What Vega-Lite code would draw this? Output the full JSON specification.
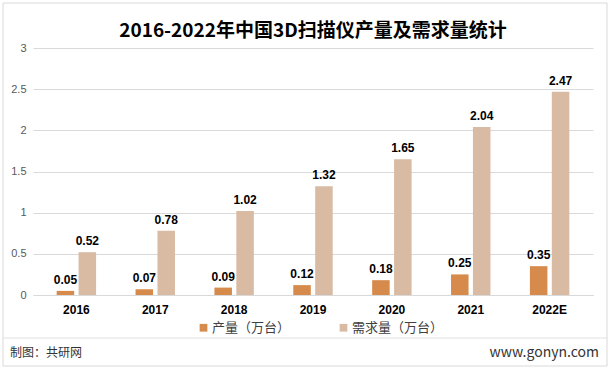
{
  "$schema": "https://vega.github.io/schema/vega-lite/v6.json",
  "width": 560,
  "height": 247,
  "autosize": "none",
  "padding": {"left": 33, "top": 48, "right": 19, "bottom": 75},
  "background": "#ffffff",
  "title": {
    "text": "2016-2022年中国3D扫描仪产量及需求量统计",
    "font": "Noto Sans CJK SC",
    "fontSize": 19,
    "fontWeight": "bold",
    "color": "#000000",
    "anchor": "middle",
    "frame": "group",
    "offset": -38
  },
  "config": {
    "view": {"stroke": null},
    "font": "Noto Sans CJK SC"
  },
  "datasets": {
    "bars": [
      {"year": "2016", "series": "产量（万台）", "value": 0.05},
      {"year": "2016", "series": "需求量（万台）", "value": 0.52},
      {"year": "2017", "series": "产量（万台）", "value": 0.07},
      {"year": "2017", "series": "需求量（万台）", "value": 0.78},
      {"year": "2018", "series": "产量（万台）", "value": 0.09},
      {"year": "2018", "series": "需求量（万台）", "value": 1.02},
      {"year": "2019", "series": "产量（万台）", "value": 0.12},
      {"year": "2019", "series": "需求量（万台）", "value": 1.32},
      {"year": "2020", "series": "产量（万台）", "value": 0.18},
      {"year": "2020", "series": "需求量（万台）", "value": 1.65},
      {"year": "2021", "series": "产量（万台）", "value": 0.25},
      {"year": "2021", "series": "需求量（万台）", "value": 2.04},
      {"year": "2022E", "series": "产量（万台）", "value": 0.35},
      {"year": "2022E", "series": "需求量（万台）", "value": 2.47}
    ],
    "footer": [
      {"label": "制图：共研网", "pos": "left"},
      {"label": "www.gonyn.com", "pos": "right"}
    ]
  },
  "layer": [
    {
      "data": {"values": [{"a": 1}]},
      "mark": {"type": "rect", "fill": null, "stroke": "#D9D9D9", "strokeWidth": 1},
      "encoding": {"x": {"value": -30}, "x2": {"value": 574}, "y": {"value": -45}, "y2": {"value": 318}}
    },
    {
      "data": {"name": "bars"},
      "mark": {"type": "bar"},
      "encoding": {
        "x": {
          "field": "year", "type": "nominal", "sort": null,
          "scale": {"paddingInner": 0.5, "paddingOuter": 0.3},
          "axis": {
            "title": null, "labelAngle": 0, "labelFontWeight": "bold", "labelFontSize": 12,
            "labelFont": "Liberation Sans",
            "labelColor": "#000000", "ticks": false, "domainColor": "#D9D9D9", "labelPadding": 9
          }
        },
        "xOffset": {"field": "series", "type": "nominal", "scale": {"paddingInner": 0.2}},
        "y": {
          "field": "value", "type": "quantitative",
          "scale": {"domain": [0, 3]},
          "axis": {
            "title": null, "values": [0, 0.5, 1, 1.5, 2, 2.5, 3], "format": "~g", "domain": false, "ticks": false,
            "labelColor": "#595959", "labelFontSize": 11, "labelPadding": 7, "gridColor": "#D9D9D9",
            "labelFont": "Liberation Sans"
          }
        },
        "color": {
          "field": "series", "type": "nominal",
          "scale": {"domain": ["产量（万台）", "需求量（万台）"], "range": ["#D68B4D", "#D9BBA4"]},
          "legend": {
            "title": null, "orient": "none", "legendX": 164, "legendY": 273, "direction": "horizontal", "symbolType": "square",
            "symbolSize": 60, "labelFontSize": 13, "labelColor": "#404040", "columnPadding": 46,
            "labelOffset": 2
          }
        }
      }
    },
    {
      "data": {"name": "bars"},
      "mark": {"type": "text", "dy": -11, "fontWeight": "bold", "fontSize": 12, "color": "#000000", "font": "Liberation Sans"},
      "encoding": {
        "x": {"field": "year", "type": "nominal", "sort": null},
        "xOffset": {"field": "series", "type": "nominal"},
        "y": {"field": "value", "type": "quantitative"},
        "text": {"field": "value", "type": "quantitative", "format": ".2f"}
      }
    },
    {
      "data": {"values": [{"a": 1}]},
      "mark": {"type": "rule", "color": "#E0E0E0", "strokeWidth": 1},
      "encoding": {"x": {"value": -30}, "x2": {"value": 574}, "y": {"value": 290}}
    },
    {
      "data": {"name": "footer"},
      "transform": [{"filter": "datum.pos === 'left'"}],
      "mark": {"type": "text", "align": "left", "baseline": "middle", "fontSize": 12, "color": "#333333"},
      "encoding": {"x": {"value": -23}, "y": {"value": 305}, "text": {"field": "label"}}
    },
    {
      "data": {"name": "footer"},
      "transform": [{"filter": "datum.pos === 'right'"}],
      "mark": {"type": "text", "align": "right", "baseline": "middle", "fontSize": 14, "color": "#333333"},
      "encoding": {"x": {"value": 566}, "y": {"value": 305}, "text": {"field": "label"}}
    }
  ]
}
